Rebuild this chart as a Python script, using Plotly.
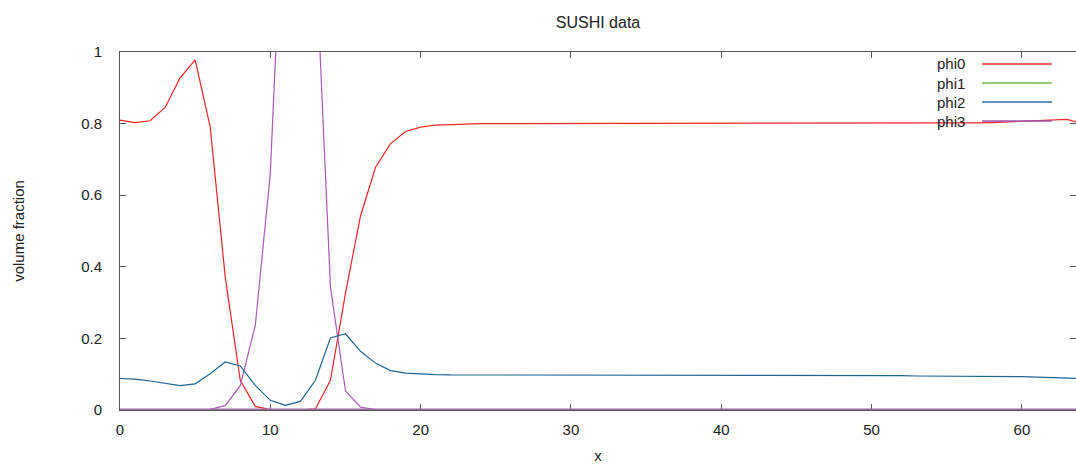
import plotly.graph_objects as go

# Grid positions along x
x = list(range(65))

# Volume fractions of each phase
phi0 = [0.810, 0.803, 0.808, 0.845, 0.928, 0.978, 0.791, 0.372, 0.083, 0.010,
        0.001, 0.000, 0.000, 0.003, 0.083, 0.326, 0.542, 0.678, 0.744, 0.778,
        0.790, 0.796, 0.798, 0.799, 0.800, 0.800, 0.800, 0.800, 0.800, 0.800,
        0.800, 0.800, 0.800, 0.800, 0.800, 0.800, 0.800, 0.800, 0.800, 0.800,
        0.800, 0.800, 0.800, 0.800, 0.800, 0.800, 0.800, 0.800, 0.800, 0.800,
        0.800, 0.800, 0.800, 0.800, 0.801, 0.801, 0.801, 0.802, 0.803, 0.805,
        0.807, 0.810, 0.812, 0.812, 0.800]
phi1 = [0.000, 0.000, 0.000, 0.000, 0.000, 0.000, 0.002, 0.012, 0.068, 0.236,
        0.661, 1.600, 1.700, 1.290, 0.344, 0.053, 0.008, 0.001, 0.000, 0.000,
        0.000, 0.000, 0.000, 0.000, 0.000, 0.000, 0.000, 0.000, 0.000, 0.000,
        0.000, 0.000, 0.000, 0.000, 0.000, 0.000, 0.000, 0.000, 0.000, 0.000,
        0.000, 0.000, 0.000, 0.000, 0.000, 0.000, 0.000, 0.000, 0.000, 0.000,
        0.000, 0.000, 0.000, 0.000, 0.000, 0.000, 0.000, 0.000, 0.000, 0.000,
        0.000, 0.000, 0.000, 0.000, 0.000]
phi2 = [0.088, 0.086, 0.081, 0.074, 0.068, 0.073, 0.101, 0.134, 0.123, 0.069,
        0.027, 0.013, 0.024, 0.083, 0.201, 0.213, 0.164, 0.131, 0.110, 0.103,
        0.100, 0.099, 0.098, 0.098, 0.098, 0.097, 0.097, 0.097, 0.097, 0.097,
        0.097, 0.097, 0.097, 0.097, 0.097, 0.097, 0.097, 0.097, 0.097, 0.097,
        0.097, 0.097, 0.097, 0.097, 0.097, 0.097, 0.097, 0.097, 0.096, 0.096,
        0.096, 0.096, 0.096, 0.095, 0.095, 0.095, 0.095, 0.094, 0.094, 0.093,
        0.093, 0.092, 0.091, 0.089, 0.088]
phi3 = [0.0] * 65

names = ["phi0", "phi1", "phi2", "phi3"]
series = [phi0, phi1, phi2, phi3]
line_colors = ["#f02424", "#aa5ab6", "#1d6494", "#a068a8"]
line_widths = [1.2, 1.2, 1.2, 3.0]
key_colors = ["#e8302a", "#6cbe48", "#3568a8", "#a050b0"]

x_ticks = [0, 10, 20, 30, 40, 50, 60]
y_ticks = [0, 0.2, 0.4, 0.6, 0.8, 1]

FONT = "Liberation Sans, Arial, Helvetica, sans-serif"
AXIS = "#555555"
TEXT = "#222222"

fig = go.Figure()
for name, ys, col, lw in zip(names, series, line_colors, line_widths):
    fig.add_trace(go.Scatter(x=x, y=ys, mode="lines", name=name,
                             line=dict(color=col, width=lw),
                             showlegend=False))

# Key in the top-right corner: label to the left of a short line sample
W, H = 1076, 464
L, R, T, B = 120, 0, 52, 54
pw, ph = W - L - R, H - T - B
shapes, annotations = [], []
for i, (name, col) in enumerate(zip(names, key_colors)):
    py = 64 + 19 * i
    yp = (H - B - py) / ph
    annotations.append(dict(xref="paper", yref="paper",
                            x=(967 - L) / pw, y=yp, xanchor="right",
                            yanchor="middle", text=name, showarrow=False,
                            font=dict(family=FONT, size=15, color=TEXT)))
    shapes.append(dict(type="line", xref="paper", yref="paper",
                       x0=(982 - L) / pw, x1=(1052 - L) / pw, y0=yp, y1=yp,
                       line=dict(color=col, width=1.5)))

fig.update_layout(
    width=W, height=H,
    margin=dict(l=L, r=R, t=T, b=B),
    paper_bgcolor="white", plot_bgcolor="white",
    font=dict(family=FONT, size=15, color=TEXT),
    title=dict(text="SUSHI data", x=0.5, xref="paper", xanchor="center",
               y=1 - 22 / H, yref="container", yanchor="middle",
               font=dict(family=FONT, size=16, color=TEXT)),
    shapes=shapes, annotations=annotations,
)
fig.update_xaxes(range=[0, 63.6], tickvals=x_ticks, ticks="inside", ticklen=6,
                 tickcolor=AXIS, showline=True, linecolor=AXIS, linewidth=1,
                 mirror="ticks", showgrid=False, zeroline=False,
                 ticklabelstandoff=6, layer="below traces", automargin=False,
                 title=dict(text="x", standoff=19,
                            font=dict(family=FONT, size=15, color=TEXT)))
fig.update_yaxes(range=[0, 1], tickvals=y_ticks, ticks="inside", ticklen=6,
                 tickcolor=AXIS, showline=True, linecolor=AXIS, linewidth=1,
                 mirror="ticks", showgrid=False, zeroline=False,
                 ticklabelstandoff=14, layer="below traces", automargin=False,
                 title=dict(text="volume fraction", standoff=52,
                            font=dict(family=FONT, size=15, color=TEXT)))

fig.write_html("out.html")
